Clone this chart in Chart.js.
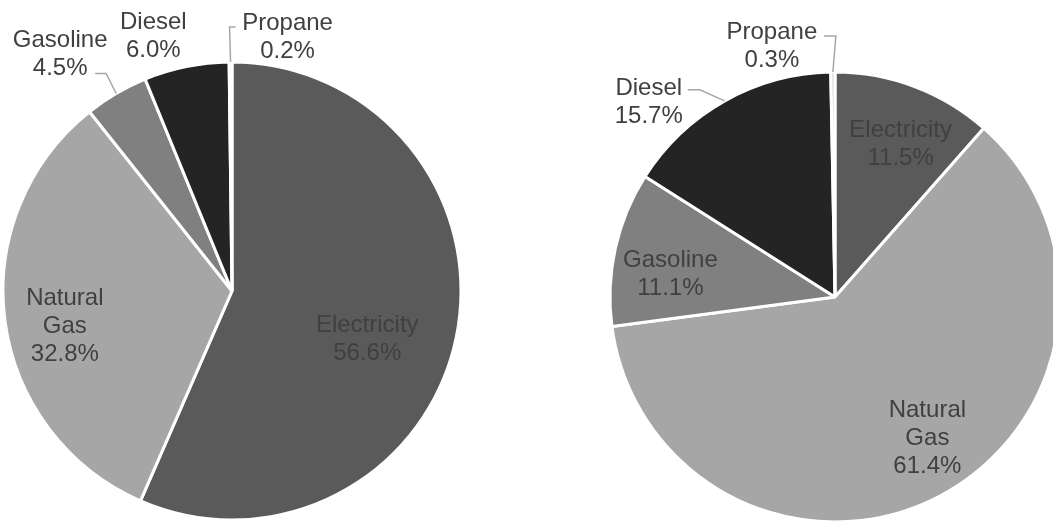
<!DOCTYPE html>
<html>
<head>
<meta charset="utf-8">
<script src="https://cdn.jsdelivr.net/npm/chart.js@4.4.0/dist/chart.umd.min.js"></script>
<style>
  html, body { margin: 0; padding: 0; background: #fff; overflow: hidden; width: 1053px; height: 523px; }
  #left { position: absolute; left: 0; top: 0; width: 527px; height: 523px; }
  #right { position: absolute; left: 527px; top: 0; width: 560px; height: 523px; }
</style>
</head>
<body>
<div id="left"><canvas id="leftChart"></canvas></div>
<div id="right"><canvas id="rightChart"></canvas></div>
<script>
// Data
const fuels = ["Electricity", "Natural Gas", "Gasoline", "Diesel", "Propane"];
const leftShares = [56.6, 32.8, 4.5, 6.0, 0.2];
const rightShares = [11.5, 61.4, 11.1, 15.7, 0.3];

// Styles
const fuelColors = ["#5a5a5a", "#a6a6a6", "#808080", "#242424", "#d4d4d4"];
const textColor = "#404040";
const leaderColor = "#a6a6a6";
const labelFont = "24px 'Liberation Sans', Arial, sans-serif";
const lineHeight = 28;

// label placement: inside slices (distance as share of radius) or outside (offset from slice edge)
const leftPlacement = [
  { inside: true, dist: 0.63, dx: -6, dy: 19 },
  { inside: true, dist: 0.745, dx: 2, dy: 13 },
  { inside: false, dx: -56, dy: -39, leader: [[-10, -20], [-21, -20]] },
  { inside: false, dx: -33, dy: -30 },
  { inside: false, dx: 57, dy: -25, leader: [[-1, -35], [5, -35]] }
];
const rightPlacement = [
  { inside: true, dist: 0.75, dx: 6, dy: 5 },
  { inside: true, dist: 0.74, dx: 14, dy: -6 },
  { inside: true, dist: 0.74, dx: -2, dy: 13 },
  { inside: false, dx: -76, dy: 2, leader: [[-25, -11], [-37, -11]] },
  { inside: false, dx: -61, dy: -26, leader: [[3, -36], [-9, -36]] }
];

function labelLines(name, value) {
  return name.split(" ").concat([value.toFixed(1) + "%"]);
}

const pieLabels = {
  id: "pieLabels",
  afterDatasetsDraw(chart, args, opts) {
    const ctx = chart.ctx;
    const meta = chart.getDatasetMeta(0);
    const values = chart.data.datasets[0].data;
    ctx.save();
    ctx.font = labelFont;
    ctx.fillStyle = textColor;
    ctx.textAlign = "center";
    ctx.textBaseline = "middle";
    meta.data.forEach((arc, i) => {
      const p = arc.getProps(["x", "y", "startAngle", "endAngle", "outerRadius"], true);
      const mid = (p.startAngle + p.endAngle) / 2;
      const place = opts.placement[i];
      let cx, cy;
      if (place.inside) {
        cx = p.x + Math.cos(mid) * p.outerRadius * place.dist + place.dx;
        cy = p.y + Math.sin(mid) * p.outerRadius * place.dist + place.dy;
      } else {
        const ex = p.x + Math.cos(mid) * p.outerRadius;
        const ey = p.y + Math.sin(mid) * p.outerRadius;
        cx = ex + place.dx;
        cy = ey + place.dy;
        if (place.leader) {
          ctx.save();
          ctx.strokeStyle = leaderColor;
          ctx.lineWidth = 1.5;
          ctx.beginPath();
          ctx.moveTo(ex, ey);
          place.leader.forEach(pt => ctx.lineTo(ex + pt[0], ey + pt[1]));
          ctx.stroke();
          ctx.restore();
        }
      }
      const lines = labelLines(chart.data.labels[i], values[i]);
      const top = cy - (lines.length - 1) * lineHeight / 2;
      lines.forEach((t, k) => ctx.fillText(t, cx, top + k * lineHeight));
    });
    ctx.restore();
  }
};

function makePie(id, shares, radius, padding, placement) {
  return new Chart(document.getElementById(id), {
    type: "pie",
    data: {
      labels: fuels,
      datasets: [{
        data: shares,
        backgroundColor: fuelColors,
        borderColor: "#ffffff",
        borderWidth: 3
      }]
    },
    options: {
      responsive: true,
      maintainAspectRatio: false,
      animation: false,
      radius: radius,
      layout: { padding: padding },
      plugins: {
        legend: { display: false },
        tooltip: { enabled: false },
        pieLabels: { placement: placement }
      }
    },
    plugins: [pieLabels]
  });
}

makePie("leftChart", leftShares, 229, { left: 4, right: 67, top: 63, bottom: 4 }, leftPlacement);
makePie("rightChart", rightShares, 225, { left: 84, right: 28, top: 73, bottom: 2 }, rightPlacement);
</script>
</body>
</html>
